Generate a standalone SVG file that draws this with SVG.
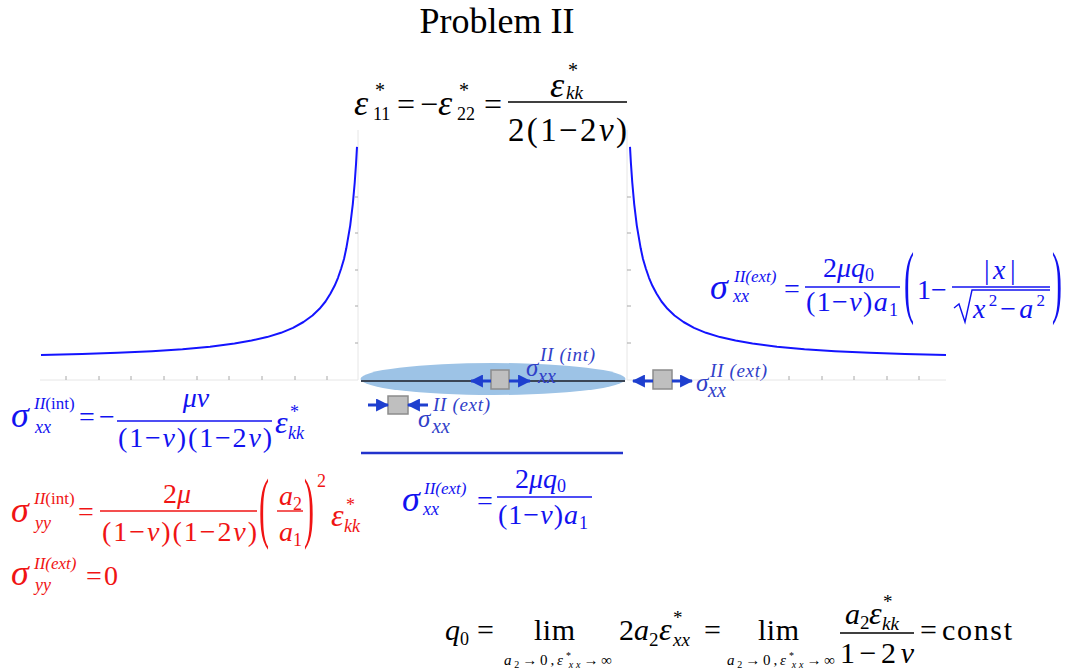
<svg xmlns="http://www.w3.org/2000/svg" width="1073" height="670" viewBox="0 0 1073 670">
<defs>
<style>
text{font-family:"Liberation Serif","DejaVu Serif","Times New Roman",serif;}
.i{font-style:italic}
.k{fill:#000}
.b{fill:#1212f0}
.r{fill:#f01414}
.lb{fill:#3040c8;font-style:italic}
.bar{stroke-width:1.4}
.bk{stroke:#000}
.bb{stroke:#1212f0}
.br{stroke:#f01414}
.curve{fill:none;stroke:#1414ff;stroke-width:2;stroke-linejoin:round}
.ax{stroke:#e6e6e6;stroke-width:1;fill:none}
.tk{stroke:#a8a8a8;stroke-width:1}
.el{fill:#bfbfbf;stroke:#8c8c8c;stroke-width:1.5}
.arr{stroke:#1e3fcf;stroke-width:3;marker-end:url(#ah)}
</style>
<marker id="ah" viewBox="0 0 12 12" refX="11" refY="6" markerWidth="13" markerHeight="13" markerUnits="userSpaceOnUse" orient="auto"><path d="M0,0L12,6L0,12z" fill="#1e3fcf"/></marker>
</defs>
<rect width="1073" height="670" fill="#fff"/>

<g id="title"><text x="497" y="33" font-size="36" text-anchor="middle" class="k">Problem II</text></g>

<g id="plot-axes">
<path class="ax" d="M40,380H358V130M627,130V380H946"/>
<g class="tk">
<path d="M66,376V380M99,376V380M131,376V380M164,376V380M197,376V380M229,376V380M262,376V380M295,376V380M327,376V380"/>
<path d="M757,376V380M789,376V380M822,376V380M854,376V380M887,376V380M919,376V380"/>
<path d="M355,197H358M355,233H358M355,270H358M355,306H358M355,343H358"/>
<path d="M627,197H631M627,233H631M627,270H631M627,306H631M627,343H631"/>
</g>
</g>

<g id="curves">
<path class="curve" d="M630,146.9 L630.95,163.6 L632.25,182.3 L634.2,204.1 L636.8,225.6 L640.7,248.3 L643,259 L645.9,268.7 L649,277.8 L652.4,285.8 L656.5,293.5 L661.5,301.5 L667.5,308.8 L674.5,315.5 L683.5,322 L694,327.8 L706,332.8 L720,337.1 L735.5,340.6 L752.5,343.6 L777,346.7 L804.5,349.2 L835,351.2 L869.5,352.8 L905,354 L946,355"/>
<path class="curve" d="M357,146.9 L356.05,163.6 L354.75,182.3 L352.8,204.1 L350.2,225.6 L346.3,248.3 L344,259 L341.1,268.7 L338,277.8 L334.6,285.8 L330.5,293.5 L325.5,301.5 L319.5,308.8 L312.5,315.5 L303.5,322 L293,327.8 L281,332.8 L267,337.1 L251.5,340.6 L234.5,343.6 L210,346.7 L182.5,349.2 L152,351.2 L117.5,352.8 L82,354 L41,355"/>
</g>

<g id="crack">
<ellipse cx="493" cy="379" rx="132.5" ry="16" fill="#9dc3e6"/>
<line x1="361" y1="381" x2="625" y2="381" stroke="#3b4656" stroke-width="2"/>
</g>

<g id="element-int">
<rect class="el" x="491" y="370" width="18" height="19"/>
<text class="lb" x="540" y="361" font-size="19" textLength="55" lengthAdjust="spacing">II (int)</text>
<text class="lb" x="526" y="376" font-size="25">σ</text>
<text class="lb" x="538" y="383" font-size="20">xx</text>
</g>
<g id="element-ext-left">
<rect class="el" x="388" y="396" width="20" height="18"/>
<text class="lb" x="433" y="411" font-size="19" textLength="57" lengthAdjust="spacing">II (ext)</text>
<text class="lb" x="418" y="427" font-size="25">σ</text>
<text class="lb" x="432" y="433" font-size="20">xx</text>
</g>
<g id="element-ext-right">
<rect class="el" x="653" y="370" width="19" height="19"/>
<text class="lb" x="710" y="377" font-size="19" textLength="57" lengthAdjust="spacing">II (ext)</text>
<text class="lb" x="696" y="391" font-size="25">σ</text>
<text class="lb" x="708" y="397" font-size="20">xx</text>
</g>

<g id="connectors">
<line class="arr" x1="491" y1="381" x2="471" y2="381"/>
<line class="arr" x1="509" y1="381" x2="530" y2="381"/>
<line class="arr" x1="368" y1="405" x2="388" y2="405"/>
<line class="arr" x1="428" y1="405" x2="408" y2="405"/>
<line class="arr" x1="653" y1="381" x2="633" y2="381"/>
<line class="arr" x1="672" y1="381" x2="692" y2="381"/>
<line x1="361" y1="453" x2="623" y2="453" stroke="#2233cc" stroke-width="2.5"/>
</g>

<g id="eq-top" class="k">
<text class="i" x="354" y="115" font-size="36">ε</text>
<text x="373" y="120" font-size="18">11</text>
<text x="375" y="97" font-size="20">*</text>
<text x="397" y="115" font-size="32">=</text>
<text x="420" y="115" font-size="32">−</text>
<text class="i" x="438" y="115" font-size="36">ε</text>
<text x="457" y="120" font-size="18">22</text>
<text x="459" y="97" font-size="20">*</text>
<text x="484" y="115" font-size="32">=</text>
<line class="bar bk" x1="508" y1="102" x2="627" y2="102"/>
<text class="i" x="550" y="97" font-size="36">ε</text>
<text class="i" x="566" y="99" font-size="19">kk</text>
<text x="568" y="77" font-size="20">*</text>
<text x="508" y="141" font-size="33" textLength="119" lengthAdjust="spacing">2(1−2<tspan class="i">ν</tspan>)</text>
</g>

<g id="eq-right" class="b">
<text class="i" x="710" y="299" font-size="36">σ</text>
<text class="i" x="734" y="282" font-size="17">II(ext)</text>
<text class="i" x="733" y="302" font-size="18">xx</text>
<text x="784" y="298" font-size="28">=</text>
<line class="bar bb" x1="805" y1="287" x2="900" y2="287"/>
<text x="823" y="277" font-size="28">2<tspan class="i">μq</tspan><tspan font-size="18" dy="4">0</tspan></text>
<text x="806" y="311" font-size="28" textLength="92" lengthAdjust="spacing">(1−<tspan class="i">ν</tspan>)<tspan class="i">a</tspan><tspan font-size="18" dy="5">1</tspan></text>
<text transform="translate(904,308) scale(1,2.7)" font-size="30">(</text>
<text x="917" y="299" font-size="28">1</text>
<text x="931" y="299" font-size="28">−</text>
<line class="bar bb" x1="952" y1="287" x2="1050" y2="287"/>
<text x="984" y="279" font-size="28">|</text>
<text class="i" x="993" y="279" font-size="28">x</text>
<text x="1010" y="279" font-size="28">|</text>
<polyline points="954,308 959,304 965,322 972,290 1050,290" fill="none" class="bb" stroke-width="1.4"/>
<text x="973" y="318" font-size="28" textLength="72" lengthAdjust="spacing"><tspan class="i">x</tspan><tspan font-size="17" dy="-12">2</tspan><tspan dy="12">−</tspan><tspan class="i">a</tspan><tspan font-size="17" dy="-12">2</tspan></text>
<text transform="translate(1052,308) scale(1,2.7)" font-size="30">)</text>
</g>

<g id="eq-sxx-int" class="b">
<text class="i" x="11" y="427" font-size="36">σ</text>
<text x="34" y="409" font-size="17"><tspan class="i">II</tspan>(int)</text>
<text class="i" x="35" y="433" font-size="18">xx</text>
<text x="79" y="426" font-size="28">=</text>
<text x="99" y="426" font-size="28">−</text>
<line class="bar bb" x1="117" y1="421" x2="272" y2="421"/>
<text class="i" x="196" y="407" font-size="28" text-anchor="middle">μν</text>
<text x="118" y="447" font-size="28" textLength="154" lengthAdjust="spacing">(1−<tspan class="i">ν</tspan>)(1−2<tspan class="i">ν</tspan>)</text>
<text class="i" x="275" y="433" font-size="32">ε</text>
<text x="290" y="418" font-size="18">*</text>
<text class="i" x="288" y="439" font-size="18">kk</text>
</g>

<g id="eq-syy-int" class="r">
<text class="i" x="11" y="522" font-size="36">σ</text>
<text x="34" y="504" font-size="17"><tspan class="i">II</tspan>(int)</text>
<text class="i" x="35" y="529" font-size="18">yy</text>
<text x="78" y="521" font-size="28">=</text>
<line class="bar br" x1="100" y1="511" x2="257" y2="511"/>
<text x="177" y="503" font-size="28" text-anchor="middle">2<tspan class="i">μ</tspan></text>
<text x="102" y="541" font-size="28" textLength="155" lengthAdjust="spacing">(1−<tspan class="i">ν</tspan>)(1−2<tspan class="i">ν</tspan>)</text>
<text transform="translate(259,533) scale(1,2.6)" font-size="30">(</text>
<text class="i" x="279" y="505" font-size="28">a</text>
<text x="293" y="510" font-size="18">2</text>
<line class="bar br" x1="277" y1="511" x2="303" y2="511"/>
<text class="i" x="279" y="541" font-size="28">a</text>
<text x="293" y="546" font-size="18">1</text>
<text transform="translate(304,533) scale(1,2.6)" font-size="30">)</text>
<text x="317" y="487" font-size="18">2</text>
<text class="i" x="331" y="526" font-size="32">ε</text>
<text x="346" y="511" font-size="18">*</text>
<text class="i" x="344" y="532" font-size="18">kk</text>
</g>

<g id="eq-syy-ext" class="r">
<text class="i" x="11" y="585" font-size="36">σ</text>
<text class="i" x="34" y="569" font-size="17">II(ext)</text>
<text class="i" x="35" y="591" font-size="18">yy</text>
<text x="86" y="585" font-size="28">=</text>
<text x="104" y="585" font-size="28">0</text>
</g>

<g id="eq-sxx-ext" class="b">
<text class="i" x="402" y="511" font-size="36">σ</text>
<text class="i" x="424" y="494" font-size="17">II(ext)</text>
<text class="i" x="423" y="515" font-size="18">xx</text>
<text x="477" y="510" font-size="28">=</text>
<line class="bar bb" x1="497" y1="497" x2="592" y2="497"/>
<text x="515" y="488" font-size="28">2<tspan class="i">μq</tspan><tspan font-size="18" dy="4">0</tspan></text>
<text x="498" y="524" font-size="28" textLength="90" lengthAdjust="spacing">(1−<tspan class="i">ν</tspan>)<tspan class="i">a</tspan><tspan font-size="18" dy="5">1</tspan></text>
</g>

<g id="eq-q0" class="k">
<text class="i" x="445" y="640" font-size="30">q</text>
<text x="460" y="645" font-size="18">0</text>
<text x="477" y="640" font-size="30">=</text>
<text x="534" y="640" font-size="30" textLength="41" lengthAdjust="spacing">lim</text>
<text x="504" y="665" font-size="15" textLength="108" lengthAdjust="spacing"><tspan class="i">a</tspan><tspan font-size="10" dy="3">2</tspan><tspan dy="-3">→0,</tspan><tspan class="i">ε</tspan><tspan font-size="10" dy="-6">*</tspan><tspan font-size="10" class="i" dx="-5" dy="9">xx</tspan><tspan dy="-3">→∞</tspan></text>
<text x="619" y="640" font-size="30">2</text>
<text class="i" x="634" y="640" font-size="30">a</text>
<text x="649" y="646" font-size="19">2</text>
<text class="i" x="659" y="640" font-size="32">ε</text>
<text x="673" y="624" font-size="19">*</text>
<text class="i" x="673" y="646" font-size="19">xx</text>
<text x="704" y="640" font-size="30">=</text>
<text x="758" y="640" font-size="30" textLength="41" lengthAdjust="spacing">lim</text>
<text x="727" y="665" font-size="15" textLength="108" lengthAdjust="spacing"><tspan class="i">a</tspan><tspan font-size="10" dy="3">2</tspan><tspan dy="-3">→0,</tspan><tspan class="i">ε</tspan><tspan font-size="10" dy="-6">*</tspan><tspan font-size="10" class="i" dx="-5" dy="9">xx</tspan><tspan dy="-3">→∞</tspan></text>
<line class="bar bk" x1="840" y1="633" x2="914" y2="633"/>
<text class="i" x="845" y="624" font-size="30">a</text>
<text x="860" y="629" font-size="19">2</text>
<text class="i" x="869" y="624" font-size="32">ε</text>
<text x="883" y="608" font-size="19">*</text>
<text class="i" x="882" y="630" font-size="19">kk</text>
<text x="840" y="663" font-size="30" textLength="74" lengthAdjust="spacing">1−2<tspan class="i">ν</tspan></text>
<text x="920" y="640" font-size="30">=</text>
<text x="942" y="640" font-size="30" textLength="70" lengthAdjust="spacing">const</text>
</g>
</svg>
